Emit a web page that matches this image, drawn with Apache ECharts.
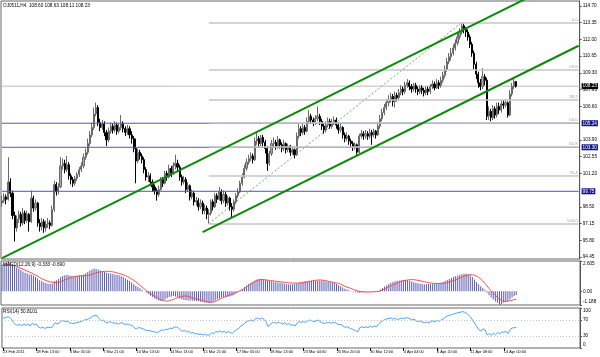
<!DOCTYPE html>
<html><head><meta charset="utf-8">
<script src="https://cdn.jsdelivr.net/npm/echarts@6/dist/echarts.min.js"></script>
<style>html,body{margin:0;padding:0;background:#fff}#c{width:600px;height:357px}</style>
</head><body><div id="c"></div><script>
// ---------- data ----------
const xLabels = ['23 Feb 2011','28 Feb 13:00','3 Mar 05:00','7 Mar 21:00','10 Mar 13:00','14 Mar 13:00','15 Mar 21:00','17 Mar 05:00','18 Mar 13:00','23 Mar 04:00','25 Mar 20:00','30 Mar 12:00','4 Apr 04:00','6 Apr 20:00','11 Apr 08:00','14 Apr 00:00'];
const barsPerLabel = 16;
const slotCount = 277;
// [open, close, low, high]
const candles = [
[98.8,99.0,98.5,99.4],[99.0,99.3,98.8,99.6],[99.3,99.1,98.7,99.5],[99.1,100.5,99.0,102.5],[100.5,99.6,99.3,100.8],
[99.6,97.8,97.5,99.8],[97.8,96.8,95.7,98.1],[96.8,97.5,96.5,97.8],[97.5,97.9,97.2,98.2],[97.9,97.2,96.9,98.1],
[97.2,98.0,97.0,98.4],[98.0,97.4,97.1,98.2],[97.4,97.9,97.2,98.2],[97.9,97.3,96.5,98.0],[97.3,99.2,97.2,99.8],
[99.2,98.4,98.1,99.4],[98.4,98.8,98.2,99.1],[98.8,97.2,96.9,98.9],[97.2,96.9,96.5,97.5],[96.9,97.3,96.6,97.6],
[97.3,96.8,96.4,97.5],[96.8,97.1,96.5,97.4],[97.1,97.2,96.8,97.6],[97.2,97.0,96.7,97.4],[97.0,98.3,96.9,98.6],
[98.3,100.3,98.1,100.6],[100.3,99.7,99.4,100.5],[99.7,100.1,99.5,100.4],[100.1,101.8,100.0,102.5],[101.8,102.0,101.5,102.4],
[102.0,101.5,101.2,102.3],[101.5,101.9,101.3,102.6],[101.9,101.0,100.7,102.1],[101.0,100.7,100.3,101.2],[100.7,100.4,100.1,100.9],
[100.4,100.8,100.2,101.0],[100.8,101.1,100.6,101.3],[101.1,101.5,100.9,101.7],[101.5,101.8,101.3,102.1],[101.8,102.5,101.6,102.8],
[102.5,102.9,102.3,103.2],[102.9,103.6,102.7,104.0],[103.6,104.3,103.4,104.6],[104.3,104.9,104.1,105.3],[104.9,106.0,104.7,106.5],
[106.0,106.5,105.8,106.9],[106.5,105.3,105.0,106.7],[105.3,104.9,104.6,105.6],[104.9,105.2,104.7,105.5],[105.2,104.5,104.2,105.4],
[104.5,103.9,103.4,104.7],[103.9,104.6,103.7,104.9],[104.6,105.0,104.4,105.3],[105.0,104.7,104.4,105.2],[104.7,105.1,104.5,105.4],
[105.1,104.6,104.3,105.3],[104.6,104.9,104.4,105.2],[104.9,105.2,104.7,105.9],[105.2,104.8,104.5,105.4],[104.8,104.5,104.2,105.0],
[104.5,104.8,104.3,105.1],[104.8,104.3,104.0,105.0],[104.3,104.0,103.6,104.6],[104.0,103.2,102.9,104.2],[103.2,102.2,100.4,104.0],
[102.2,102.9,102.0,103.2],[102.9,102.6,102.3,103.1],[102.6,102.3,102.0,102.8],[102.3,101.5,101.2,102.5],[101.5,100.9,100.6,101.7],
[100.9,101.0,100.5,101.3],[101.0,100.5,100.2,101.2],[100.5,100.1,99.7,100.7],[100.1,99.8,99.5,100.3],[99.8,99.5,99.0,100.0],
[99.5,99.9,99.3,100.2],[99.9,100.7,99.8,100.9],[100.7,100.4,100.1,100.9],[100.4,101.2,100.3,101.4],[101.2,100.9,100.6,101.4],
[100.9,101.6,100.8,101.9],[101.6,101.2,100.9,101.8],[101.2,101.8,101.1,102.1],[101.8,102.0,101.5,102.7],[102.0,101.7,101.4,102.3],
[101.7,100.9,100.6,101.9],[100.9,100.5,100.2,101.1],[100.5,100.7,100.3,101.0],[100.7,99.9,99.6,100.9],[99.9,100.2,99.7,100.5],
[100.2,99.3,99.0,100.3],[99.3,99.6,99.1,99.9],[99.6,98.9,98.6,99.8],[98.9,99.0,98.6,99.3],[99.0,98.5,98.2,99.2],
[98.5,98.8,98.3,99.1],[98.8,98.2,97.9,99.0],[98.2,98.4,97.9,98.7],[98.4,97.9,97.5,98.6],[97.9,98.0,97.15,98.3],
[98.0,98.9,97.8,99.1],[98.9,98.5,98.2,99.1],[98.5,99.4,98.4,99.6],[99.4,99.1,98.8,99.6],[99.1,99.7,99.0,100.1],
[99.7,99.0,98.7,99.9],[99.0,99.5,98.8,99.8],[99.5,98.8,98.5,99.7],[98.8,99.2,98.6,99.4],[99.2,98.5,98.2,99.3],
[98.5,98.3,97.6,98.8],[98.3,98.9,98.1,99.1],[98.9,99.4,98.7,99.6],[99.4,99.7,99.2,100.0],[99.7,100.4,99.6,100.6],
[100.4,100.9,100.2,101.2],[100.9,101.6,100.8,101.9],[101.6,102.1,101.4,102.4],[102.1,102.4,101.9,102.7],[102.4,102.6,102.2,102.9],
[102.6,102.3,102.0,102.8],[102.3,103.8,102.2,104.1],[103.8,104.0,103.5,104.6],[104.0,103.6,103.3,104.2],[103.6,104.1,103.4,104.3],
[104.1,103.7,103.4,104.3],[103.7,103.2,102.8,103.9],[103.2,102.0,101.4,103.4],[102.0,102.8,101.8,103.0],[102.8,103.6,102.6,103.9],
[103.6,103.7,103.3,104.1],[103.7,103.4,103.1,103.9],[103.4,103.9,103.2,104.2],[103.9,103.5,103.2,104.0],[103.5,103.2,102.9,103.7],
[103.2,103.6,103.0,103.9],[103.6,103.1,102.8,103.7],[103.1,103.4,102.9,103.6],[103.4,102.9,102.6,103.5],[102.9,103.1,102.7,103.3],
[103.1,102.7,102.4,103.2],[102.7,104.2,102.6,104.5],[104.2,104.8,104.0,105.2],[104.8,104.5,104.2,105.0],[104.5,104.9,104.3,105.2],
[104.9,104.6,104.3,105.1],[104.6,105.4,104.5,105.7],[105.4,105.8,105.2,106.3],[105.8,105.5,105.2,106.0],[105.5,105.3,105.0,105.7],
[105.3,105.6,105.1,105.9],[105.6,105.8,105.4,106.6],[105.8,105.4,105.1,106.0],[105.4,105.0,104.7,105.6],[105.0,104.7,104.4,105.2],
[104.7,105.1,104.5,105.4],[105.1,105.4,104.9,105.7],[105.4,105.0,104.8,105.6],[105.0,105.3,104.8,105.6],[105.3,105.5,105.1,105.8],
[105.5,105.1,104.8,105.7],[105.1,104.7,104.4,105.3],[104.7,104.9,104.5,105.2],[104.9,104.3,104.0,105.0],[104.3,104.0,103.7,104.5],
[104.0,104.2,103.8,104.5],[104.2,103.8,103.5,104.3],[103.8,103.6,103.3,104.0],[103.6,103.3,103.0,103.8],[103.3,103.5,103.1,103.7],
[103.5,102.9,102.7,103.6],[102.9,104.2,102.8,104.4],[104.2,104.4,104.0,104.7],[104.4,104.2,103.9,104.6],[104.2,104.4,104.0,104.7],
[104.4,104.2,103.9,104.6],[104.2,104.5,104.0,104.8],[104.5,104.3,103.5,104.7],[104.3,104.6,104.1,104.8],[104.6,104.3,104.0,104.7],
[104.3,105.0,104.2,105.3],[105.0,105.6,104.8,105.9],[105.6,106.1,105.4,106.4],[106.1,106.5,105.9,106.8],[106.5,106.9,106.3,107.2],
[106.9,107.1,106.6,107.5],[107.1,107.4,106.9,107.7],[107.4,107.0,106.6,107.6],[107.0,107.5,106.5,107.8],[107.5,107.3,107.0,107.7],
[107.3,107.7,107.1,108.0],[107.7,108.0,107.5,108.3],[108.0,107.8,107.5,108.2],[107.8,108.3,107.6,108.6],[108.3,108.5,108.1,108.8],
[108.5,108.2,107.9,108.7],[108.2,108.0,107.7,108.4],[108.0,108.3,107.8,108.5],[108.3,108.0,107.7,108.5],[108.0,107.8,107.5,108.2],
[107.8,108.1,107.6,108.3],[108.1,107.9,107.6,108.3],[107.9,107.7,107.4,108.1],[107.7,108.0,107.5,108.2],[108.0,107.8,107.5,108.2],
[107.8,108.2,107.6,108.4],[108.2,108.4,108.0,108.7],[108.4,108.1,107.9,108.6],[108.1,108.5,108.0,108.8],[108.5,108.3,108.0,108.7],
[108.3,108.7,108.1,109.0],[108.7,109.1,108.5,109.4],[109.1,109.6,108.9,109.9],[109.6,110.2,109.4,110.5],[110.2,110.6,110.0,110.9],
[110.6,110.9,110.3,111.3],[110.9,111.3,110.7,111.6],[111.3,111.7,111.1,112.0],[111.7,112.2,111.5,112.5],[112.2,112.6,112.0,112.9],
[112.6,113.1,112.4,113.35],[113.1,112.8,112.5,113.3],[112.8,112.6,112.2,113.0],[112.6,112.2,111.9,112.8],[112.2,111.6,111.3,112.4],
[111.6,110.9,110.6,111.8],[110.9,110.0,109.6,111.1],[110.0,109.2,108.8,110.2],[109.2,108.5,108.1,109.4],[108.5,108.2,107.9,108.8],
[108.2,109.0,108.0,109.7],[109.0,108.7,108.3,109.2],[108.7,105.8,105.5,108.9],[105.8,106.2,105.5,106.6],[106.2,105.7,105.4,106.4],
[105.7,106.4,105.5,106.7],[106.4,105.9,105.6,106.6],[105.9,106.6,105.7,106.9],[106.6,106.3,106.0,106.9],[106.3,106.8,106.1,107.1],
[106.8,106.7,106.4,107.1],[106.7,106.9,106.5,107.2],[106.9,105.9,105.7,107.0],[105.9,107.6,105.8,107.9],[107.6,108.2,107.4,108.5],
[108.2,108.6,108.0,108.9],[108.60,108.23,108.11,108.63]
];
const macdHist = [
2.30,2.38,2.45,2.605,2.50, 2.35,2.18,2.05,1.95,1.82, 1.70,1.60,1.55,1.45,1.45, 1.35,1.25,1.10,0.95,0.85,
0.78,0.70,0.65,0.62,0.66, 0.85,0.95,1.05,1.20,1.32, 1.38,1.40,1.38,1.33,1.30, 1.30,1.32,1.35,1.38,1.45,
1.55,1.65,1.78,1.88,1.95, 1.92,1.85,1.78,1.72,1.65, 1.60,1.55,1.52,1.48,1.45, 1.42,1.38,1.32,1.22,1.10,
0.98,0.88,0.75,0.60,0.48, 0.38,0.25,0.12,0.00,-0.12, -0.25,-0.38,-0.50,-0.62,-0.72, -0.80,-0.85,-0.82,-0.72,-0.60,
-0.50,-0.45,-0.42,-0.45,-0.55, -0.62,-0.70,-0.75,-0.78,-0.80, -0.80,-0.82,-0.84,-0.85,-0.86, -0.90,-0.93,-0.97,-1.00,-1.02,
-0.98,-0.90,-0.80,-0.70,-0.62, -0.55,-0.52,-0.50,-0.48,-0.45, -0.40,-0.30,-0.18,-0.05,0.08, 0.20,0.35,0.50,0.62,0.72,
0.82,0.92,1.00,1.05,1.08, 1.06,1.02,0.95,0.88,0.85, 0.82,0.78,0.75,0.72,0.68, 0.65,0.62,0.60,0.58,0.60,
0.62,0.66,0.72,0.78,0.82, 0.85,0.88,0.90,0.90,0.88, 0.88,0.90,0.92,0.90,0.86, 0.84,0.82,0.80,0.78,0.72,
0.62,0.52,0.42,0.32,0.22, 0.14,0.08,0.02,-0.04,-0.08, -0.12,-0.14,-0.12,-0.08,-0.05, -0.03,-0.02,-0.03,-0.04,-0.02,
0.05,0.15,0.28,0.40,0.52, 0.62,0.72,0.80,0.86,0.90, 0.93,0.95,0.96,0.96,0.94, 0.90,0.84,0.78,0.72,0.68,
0.64,0.62,0.60,0.60,0.62, 0.62,0.64,0.66,0.68,0.70, 0.74,0.80,0.88,0.96,1.05, 1.14,1.22,1.30,1.36,1.42,
1.47,1.50,1.50,1.46,1.38, 1.22,1.02,0.80,0.60,0.42, 0.28,0.12,-0.12,-0.35,-0.55, -0.72,-0.88,-1.00,-1.188,-1.10,
-1.00,-0.92,-0.85,-0.70,-0.55, -0.42,-0.333
];
const macdSignal = [
2.22,2.23,2.24,2.25,2.25, 2.24,2.20,2.14,2.05,1.98, 1.90,1.82,1.74,1.66,1.58, 1.50,1.40,1.30,1.18,1.08,
1.00,0.92,0.85,0.80,0.77, 0.76,0.76,0.78,0.82,0.88, 0.96,1.04,1.12,1.18,1.24, 1.28,1.30,1.32,1.33,1.34,
1.35,1.37,1.40,1.45,1.52, 1.58,1.63,1.66,1.69,1.71, 1.72,1.72,1.70,1.67,1.63, 1.58,1.53,1.48,1.42,1.35,
1.26,1.16,1.05,0.94,0.82, 0.65,0.50,0.36,0.22,0.06, -0.08,-0.20,-0.32,-0.44,-0.55, -0.64,-0.72,-0.80,-0.84,-0.85,
-0.82,-0.76,-0.70,-0.62,-0.55, -0.50,-0.46,-0.42,-0.41,-0.44, -0.50,-0.56,-0.62,-0.66,-0.70, -0.75,-0.80,-0.86,-0.90,-0.94,
-0.95,-0.93,-0.88,-0.80,-0.70, -0.62,-0.54,-0.46,-0.38,-0.32, -0.26,-0.20,-0.12,-0.04,0.05, 0.14,0.24,0.36,0.48,0.62,
0.74,0.84,0.92,0.98,1.00, 1.00,0.98,0.96,0.93,0.91, 0.88,0.86,0.84,0.81,0.79, 0.77,0.75,0.73,0.71,0.70,
0.70,0.70,0.70,0.71,0.73, 0.76,0.80,0.84,0.88,0.91, 0.94,0.96,0.97,0.96,0.93, 0.90,0.86,0.82,0.79,0.76,
0.72,0.68,0.60,0.52,0.44, 0.36,0.30,0.24,0.16,0.10, 0.04,-0.01,-0.04,-0.06,-0.07, -0.07,-0.07,-0.06,-0.05,-0.04,
-0.02,0.02,0.10,0.20,0.30, 0.38,0.46,0.54,0.62,0.70, 0.78,0.85,0.90,0.94,0.97, 0.99,1.00,0.99,0.97,0.94,
0.90,0.86,0.82,0.78,0.74, 0.71,0.69,0.68,0.67,0.67, 0.67,0.68,0.70,0.74,0.80, 0.86,0.92,0.98,1.06,1.14,
1.22,1.29,1.35,1.40,1.42, 1.42,1.38,1.30,1.20,1.05, 0.88,0.68,0.46,0.24,0.04, -0.15,-0.35,-0.52,-0.68,-0.80,
-0.86,-0.88,-0.86,-0.82,-0.78, -0.72,-0.690
];
const rsi = [
74,76,78,77,72, 64,58,57,59,56, 60,57,60,55,62, 58,60,52,50,52,
49,51,52,50,56, 63,60,62,68,68, 66,67,63,62,61, 63,64,66,67,70,
71,73,76,79,82, 81,74,68,70,65, 62,66,64,62,63, 60,62,63,60,59,
60,57,56,50,48, 51,50,48,46,43, 44,42,41,40,39, 42,45,44,47,46,
50,48,52,53,50, 45,42,44,40,42, 37,39,35,36,34, 35,33,34,32,33,
38,36,41,40,43, 39,42,38,41,38, 37,42,46,49,55, 58,63,67,68,70,
67,74,75,72,75, 72,66,54,58,63, 64,61,65,62,60, 63,59,61,57,58,
55,63,66,64,66, 64,68,70,68,66, 68,70,66,63,61, 63,64,62,63,64,
61,58,59,54,52, 53,50,48,46,43, 40,51,53,51,53, 51,54,52,55,53,
60,65,68,71,73, 74,75,72,74,71, 73,75,73,75,76, 73,70,72,68,66,
68,65,63,65,63, 66,68,65,69,67, 70,73,77,80,82, 83,85,87,88,89,
91,90,87,83,78, 70,62,54,46,42, 48,45,33,36,32, 37,33,38,36,40,
39,42,36,46,50, 51,50.81
];
const priceTicks = [94.45,95.80,97.15,98.50,101.20,102.55,103.90,106.60,107.95,109.30,110.65,112.00,113.35,114.70];
const macdTicks = [2.605, 0, -1.188];
const rsiTicks = [100, 70, 30, 0];
const rsiLevels = [70, 30];
const levelLines = [105.24, 103.30, 99.75];
const bidPrice = 108.23;
const fibLevels = [0.0, 23.6, 38.2, 50.0, 61.8, 76.4, 100.0];
const fibHigh = 113.35, fibLow = 97.15, fibLowBar = 99, fibHighBar = 220;
const channelUpper = [[0, 94.36], [276, 117.39]];
const channelLower = [[96, 96.46], [276, 111.49]];
const titleMain = 'OJ0511,H4  108.60 108.63 108.11 108.23';
const titleMacd = 'MACD(12,26,9) -0.333 -0.690';
const titleRsi = 'RSI(14) 50.8101';

// ---------- chart ----------
const FONT = 'Liberation Sans';
const cats = Array.from({length: slotCount}, (_, i) => String(i));
const labelIdx = i => i % barsPerLabel === 0 && i / barsPerLabel < xLabels.length;
const rich = (fs) => ({
  t: {fontSize: fs, color: '#000', fontFamily: FONT, padding: [6, 0, 0, 0]},
  b: {fontSize: fs, color: '#000', fontFamily: FONT, padding: [0, 0, 7, 0]}
});
const near = (a, b) => Math.abs(a - b) < 1e-6;
const BLUE = '#5555b5';

const baseX = (gi, showLabels) => ({
  type: 'category', gridIndex: gi, data: cats, boundaryGap: true,
  axisLine: {show: false}, splitLine: {show: false},
  axisTick: showLabels ? {show: true, alignWithLabel: true, interval: (i) => labelIdx(i), length: 3, lineStyle: {color: '#000'}} : {show: false},
  axisLabel: showLabels ? {show: true, interval: (i) => labelIdx(i), formatter: (v) => xLabels[Number(v) / barsPerLabel], align: 'left', fontSize: 3.9, color: '#000', fontFamily: FONT, margin: 2} : {show: false}
});

// a full-width horizontal level drawn as a two-point line series, with a price box at its right end
const levelSeries = (v, lineColor, boxColor, z) => ({
  type: 'line', xAxisIndex: 0, yAxisIndex: 0, silent: true, showSymbol: false, z: z,
  data: [[0, v], [slotCount - 1, v]],
  lineStyle: {color: lineColor, width: 1, type: 'solid'},
  endLabel: {show: true, formatter: v.toFixed(2), color: '#fff', backgroundColor: boxColor, fontSize: 4.7, fontFamily: FONT, padding: [1, 1, 0, 1], distance: 3}
});

const chart = echarts.init(document.getElementById('c'), null, {renderer: 'canvas'});
chart.setOption({
  animation: false,
  backgroundColor: '#fff',
  title: [
    {text: titleMain, left: 3, top: 3, padding: 0, textStyle: {fontSize: 4.7, fontWeight: 'normal', color: '#000', fontFamily: FONT}},
    {text: titleMacd, left: 3, top: 262, padding: 0, textStyle: {fontSize: 4.7, fontWeight: 'normal', color: '#000', fontFamily: FONT}},
    {text: titleRsi, left: 3, top: 309, padding: 0, textStyle: {fontSize: 4.7, fontWeight: 'normal', color: '#000', fontFamily: FONT}}
  ],
  grid: [
    {left: 1, top: 1, width: 579, height: 258, show: true, borderColor: '#666', borderWidth: 1, backgroundColor: 'transparent'},
    {left: 1, top: 261, width: 579, height: 44, show: true, borderColor: '#666', borderWidth: 1, backgroundColor: 'transparent'},
    {left: 1, top: 308, width: 579, height: 40, show: true, borderColor: '#666', borderWidth: 1, backgroundColor: 'transparent'}
  ],
  xAxis: [baseX(0, false), baseX(1, false), baseX(2, true)],
  yAxis: [
    {type: 'value', gridIndex: 0, position: 'right', min: 94.29, max: 115.10, splitLine: {show: false},
      axisLine: {show: true, lineStyle: {color: '#555'}},
      axisTick: {show: true, customValues: priceTicks, length: 2, lineStyle: {color: '#555'}},
      axisLabel: {customValues: priceTicks, formatter: v => v.toFixed(2), fontSize: 4.7, color: '#000', fontFamily: FONT, margin: 3}},
    {type: 'value', gridIndex: 1, position: 'right', min: -1.188, max: 2.605, splitLine: {show: false},
      axisLine: {show: true, lineStyle: {color: '#555'}},
      axisTick: {show: true, customValues: macdTicks, length: 2, lineStyle: {color: '#555'}},
      axisLabel: {customValues: macdTicks, fontSize: 4.7, color: '#000', fontFamily: FONT, margin: 3, rich: rich(4.7),
        formatter: v => near(v, 2.605) ? '{t|2.605}' : near(v, -1.188) ? '{b|-1.188}' : '0.00'}},
    {type: 'value', gridIndex: 2, position: 'right', min: 0, max: 100, splitLine: {show: false},
      axisLine: {show: true, lineStyle: {color: '#555'}},
      axisTick: {show: true, customValues: rsiTicks, length: 2, lineStyle: {color: '#555'}},
      axisLabel: {customValues: rsiTicks, fontSize: 4.7, color: '#000', fontFamily: FONT, margin: 3, rich: rich(4.7),
        formatter: v => v === 100 ? '{t|100}' : v === 0 ? '{b|0}' : String(v)}}
  ],
  series: [
    { // fibonacci levels
      type: 'line', xAxisIndex: 0, yAxisIndex: 0, data: [], silent: true,
      markLine: {
        silent: true, symbol: ['none', 'none'], animation: false,
        lineStyle: {color: '#c6c6c6', width: 1.5, type: 'solid'},
        data: fibLevels.map(l => {
          const v = fibHigh - (fibHigh - fibLow) * l / 100;
          return [
            {coord: [fibLowBar, v], lineStyle: {color: '#c6c6c6', width: 1.5, type: 'solid'},
              label: {show: true, position: 'insideEndTop', formatter: l.toFixed(1), color: '#9a9a9a', fontSize: 4.3, fontFamily: FONT, distance: 1}},
            {coord: [slotCount - 1, v]}
          ];
        })
      }
    },
    levelSeries(bidPrice, '#bdbdbd', '#000', 2),
    {
      type: 'candlestick', xAxisIndex: 0, yAxisIndex: 0, data: candles, barWidth: 1.6, z: 3,
      itemStyle: {color: '#a8a8a8', color0: '#000', borderColor: '#6a6a6a', borderColor0: '#000', borderWidth: 1}
    },
    ...levelLines.map(v => levelSeries(v, BLUE, '#14148a', 4)),
    {type: 'line', xAxisIndex: 0, yAxisIndex: 0, data: [[fibLowBar, fibLow], [fibHighBar, fibHigh]], showSymbol: false, silent: true,
      lineStyle: {color: '#5cb85c', width: 1, type: [2, 2]}},
    {type: 'line', xAxisIndex: 0, yAxisIndex: 0, data: channelUpper, showSymbol: false, silent: true, clip: true, z: 5,
      lineStyle: {color: '#0b8a0b', width: 2}},
    {type: 'line', xAxisIndex: 0, yAxisIndex: 0, data: channelLower, showSymbol: false, silent: true, clip: true, z: 5,
      lineStyle: {color: '#0b8a0b', width: 2}},
    {type: 'bar', xAxisIndex: 1, yAxisIndex: 1, data: macdHist, barWidth: 1, itemStyle: {color: '#5a5ab2'}, silent: true},
    {type: 'line', xAxisIndex: 1, yAxisIndex: 1, data: macdSignal, showSymbol: false, silent: true,
      lineStyle: {color: '#f05050', width: 1}},
    {type: 'line', xAxisIndex: 2, yAxisIndex: 2, data: rsi, showSymbol: false, silent: true,
      lineStyle: {color: '#4aa3f5', width: 1},
      markLine: {silent: true, symbol: ['none', 'none'], label: {show: false}, animation: false,
        data: rsiLevels.map(v => ({yAxis: v})), lineStyle: {color: '#c4c4c4', width: 1, type: [1, 2]}}}
  ]
});
</script></body></html>
